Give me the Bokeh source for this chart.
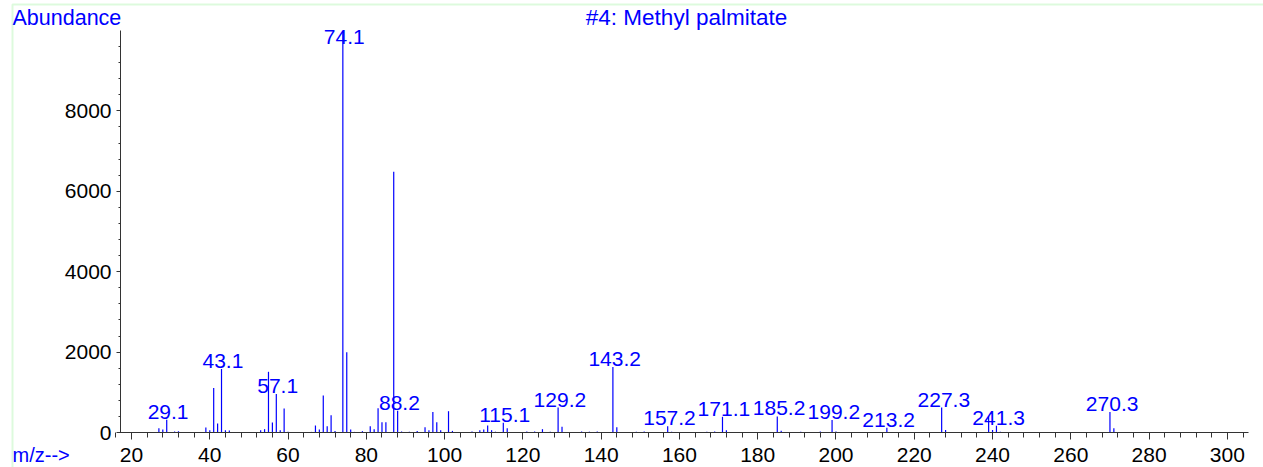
from bokeh.plotting import figure
from bokeh.models import Range1d, FixedTicker, Label, BoxAnnotation, ColumnDataSource
from bokeh.embed import file_html
from bokeh.resources import INLINE
from bokeh.core.properties import value

# ---- data ----
mz = [27, 28, 29, 31, 32, 39, 40, 41, 42, 43, 44, 45, 53, 54, 55, 56, 57, 58, 59, 60,
      61, 65, 66, 67, 68, 69, 70, 71, 72, 74, 75, 76, 77, 78, 79, 80, 81, 82, 83, 84,
      85, 87, 88, 89, 91, 93, 95, 96, 97, 98, 99, 101, 102, 107, 109, 110, 111, 112, 113, 115,
      116, 117, 121, 123, 125, 127, 129, 130, 135, 137, 139, 143, 144, 149, 151, 155, 157, 158, 167, 169,
      171, 172, 185, 186, 191, 196, 199, 200, 213, 214, 227, 228, 239, 240, 241, 242, 270, 271]
abundance = [108, 75, 315, 25, 33, 124, 58, 1110, 224, 1582, 58, 50, 58, 83, 1510, 250, 955, 58, 596, 17,
             12, 10, 15, 174, 75, 920, 157, 430, 40, 9990, 1996, 75, 15, 12, 33, 12, 157, 83, 605, 257,
             257, 6484, 538, 25, 20, 40, 132, 58, 513, 257, 58, 530, 40, 25, 58, 75, 174, 58, 20, 240,
             108, 15, 25, 25, 83, 20, 621, 141, 25, 20, 25, 1632, 132, 20, 25, 15, 157, 20, 20, 25,
             390, 58, 400, 45, 20, 25, 312, 25, 116, 15, 620, 62, 410, 62, 169, 20, 510, 107]

peak_labels = ["29.1", "43.1", "57.1", "74.1", "88.2", "115.1", "129.2", "143.2", "157.2",
               "171.1", "185.2", "199.2", "213.2", "227.3", "241.3", "270.3"]

x_major_ticks = [20, 40, 60, 80, 100, 120, 140, 160, 180, 200, 220, 240, 260, 280, 300]
y_major_ticks = [0, 2000, 4000, 6000, 8000]

title_text = "#4: Methyl palmitate"
y_label_text = "Abundance"
x_label_text = "m/z-->"

X_AXIS_LO, X_AXIS_HI = 17.19, 305.4    # m/z span of the plotting area
Y_AXIS_LO, Y_AXIS_HI = 0, 10000       # abundance span of the plotting area

BLUE = "#0000ff"
FONT = "Liberation Sans"

W, H = 1263, 467
FL, FR, FT, FB = 120, 1248, 30, 432   # plotting-area edges on the canvas

sx = (FR - FL) / (X_AXIS_HI - X_AXIS_LO)
sy = (FB - FT) / (Y_AXIS_HI - Y_AXIS_LO)


def dx(cx):
    return X_AXIS_LO + (cx - FL) / sx


def dy(cy):
    return Y_AXIS_LO + (FB - cy) / sy


p = figure(width=W, height=H, output_backend="svg", toolbar_location=None,
           x_range=Range1d(dx(0), dx(W)), y_range=Range1d(dy(H), dy(0)),
           min_border=0, min_border_left=0, min_border_right=0,
           min_border_top=0, min_border_bottom=0)
p.outline_line_color = None
p.xgrid.visible = False
p.ygrid.visible = False

# peaks
src = ColumnDataSource(dict(x=mz, top=abundance, bottom=[0] * len(mz)))
p.segment(x0="x", y0="bottom", x1="x", y1="top", source=src, line_color=BLUE, line_width=1.2)

# peak labels
lx, ly, lb = [], [], []
for t in peak_labels:
    m = float(t)
    v = abundance[mz.index(int(round(m)))]
    lx.append(m)
    if v > 9300:
        ly.append(Y_AXIS_HI)
        lb.append("top")
    else:
        ly.append(v)
        lb.append("bottom")
lsrc = ColumnDataSource(dict(x=lx, y=ly, text=peak_labels, baseline=lb))
p.text(x="x", y="y", text="text", source=lsrc, text_align="center", text_baseline="baseline",
       y_offset=-1, x_offset=1, text_color=BLUE, text_font=value(FONT), text_font_size="21px")

# axes (drawn at fixed data locations inside the canvas-wide frame)
for ax in (p.xaxis[0], p.yaxis[0]):
    ax.axis_line_color = "#333333"
    ax.major_tick_line_color = "#333333"
    ax.minor_tick_line_color = "#333333"
    ax.major_label_text_font = FONT
    ax.major_label_text_font_size = "21px"
    ax.major_label_text_color = "black"
    ax.major_tick_in = 0
    ax.minor_tick_in = 0

x_minor = [v for v in range(16, 306, 4) if v % 20 != 0]
p.xaxis[0].ticker = FixedTicker(ticks=x_major_ticks, minor_ticks=x_minor)
p.xaxis[0].major_tick_out = 7
p.xaxis[0].minor_tick_out = 5
p.xaxis[0].major_label_standoff = 8
p.xaxis[0].fixed_location = Y_AXIS_LO
p.xaxis[0].bounds = (dx(118), dx(FR))

y_minor = [v for v in range(400, 10000, 400) if v % 2000 != 0]
p.yaxis[0].ticker = FixedTicker(ticks=y_major_ticks, minor_ticks=y_minor)
p.yaxis[0].major_tick_out = 4
p.yaxis[0].minor_tick_out = 2
p.yaxis[0].major_label_standoff = 5
p.yaxis[0].fixed_location = X_AXIS_LO
p.yaxis[0].bounds = (Y_AXIS_LO, Y_AXIS_HI)

# texts
p.add_layout(Label(x=dx(12), y=dy(17), text=y_label_text,
                   text_color=BLUE, text_font=FONT, text_font_size="21.5px",
                   text_baseline="middle", text_align="left"))
p.add_layout(Label(x=dx(686), y=dy(17), text=title_text,
                   text_color=BLUE, text_font=FONT, text_font_size="22.5px",
                   text_baseline="middle", text_align="center"))
p.add_layout(Label(x=dx(12), y=dy(454), text=x_label_text,
                   text_color=BLUE, text_font=FONT, text_font_size="20px",
                   text_baseline="middle", text_align="left"))

# green frame of the source window
p.add_layout(BoxAnnotation(left=dx(12), right=dx(1400), top=dy(4), bottom=dy(700),
                           fill_color=None, line_color="#90ee90", line_width=2))

open("out.html", "w").write(file_html(p, INLINE))
